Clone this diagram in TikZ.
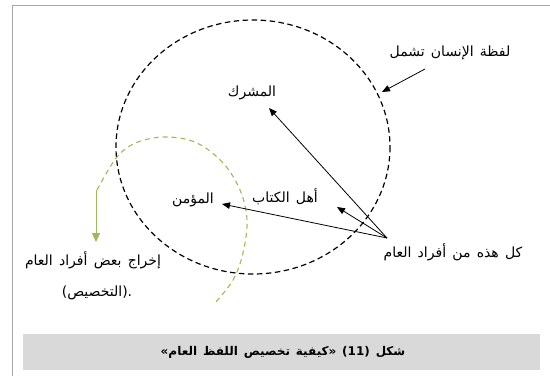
\documentclass[tikz,border=0pt]{standalone}
\usepackage{fontspec}
\usetikzlibrary{arrows.meta}
\TeXXeTstate=1
\newfontfamily\arabicfont[Script=Arabic, WordSpace=1.4]{DejaVu Sans}
\newfontfamily\latfont{DejaVu Sans}
\definecolor{olive}{HTML}{9BBB59}
\definecolor{framegray}{HTML}{A6A6A6}
\definecolor{capgray}{HTML}{D9D9D9}
\tikzset{
  lbl/.style={font=\arabicfont\fontsize{14}{17}\selectfont, inner sep=0pt},
  arr/.style={-{Triangle[length=8pt,width=6.5pt]}, line width=0.8pt, black},
  bigcircle/.style={line width=1.2pt, dash pattern=on 5.5pt off 3.5pt},
  greenarc/.style={line width=1.1pt, olive, dash pattern=on 5pt off 4pt},
}
\begin{document}
\begin{tikzpicture}[x=1pt,y=-1pt]
\useasboundingbox (0,0) rectangle (550,376);
% frame
\draw[framegray, line width=0.8pt] (12,376) -- (12,5) -- (550,5);
% caption
\fill[capgray] (23,334) rectangle (540,370);
\node[font=\arabicfont\bfseries\fontsize{12}{15}\selectfont, inner sep=0pt] (cap) at (283,352)
  {\beginR شكل {\latfont\bfseries (11)} {\latfont\bfseries »}كيفية تخصيص اللفظ العام{\latfont\bfseries «}\endR};
% big dashed circle
\draw[bigcircle] (253,147) ellipse [x radius=137, y radius=127];
% green arc
\draw[greenarc] plot[smooth, tension=0.6] coordinates {(97,190) (117,157) (138,142) (167,137) (197,143) (223,163) (240,190) (247,220) (243,253) (233,280) (215,303)};
\coordinate (gs) at (96,190);
\coordinate (ge) at (96,242);
\draw[olive, line width=1pt, -{Triangle[length=9pt,width=8pt]}] (gs) -- (ge);
% labels
\node[lbl] (insan) at (450,53) {\beginR لفظة الإنسان تشمل\endR};
\node[lbl] (mushrik) at (252,93) {المشرك};
\node[lbl] (ahl) at (285,197) {\beginR أهل الكتاب\endR};
\node[lbl] (mumin) at (193,200) {المؤمن};
\node[lbl] (kull) at (453,252) {\beginR كل هذه من أفراد العام\endR};
\node[lbl] (ikhraj) at (93,260) {\beginR إخراج بعض أفراد العام\endR};
\node[lbl] (takh) at (97,293) {{\latfont(}التخصيص{\latfont).}};
% arrows
\coordinate (src) at (387,238);
\coordinate (tm) at (269,108);
\coordinate (ta) at (337,207);
\coordinate (tu) at (222,204);
\coordinate (is) at (425,69);
\coordinate (it) at (382,92);
\draw[arr] (src) -- (tm);
\draw[arr] (src) -- (ta);
\draw[arr] (src) -- (tu);
\draw[arr] (is) -- (it);
\end{tikzpicture}
\end{document}
